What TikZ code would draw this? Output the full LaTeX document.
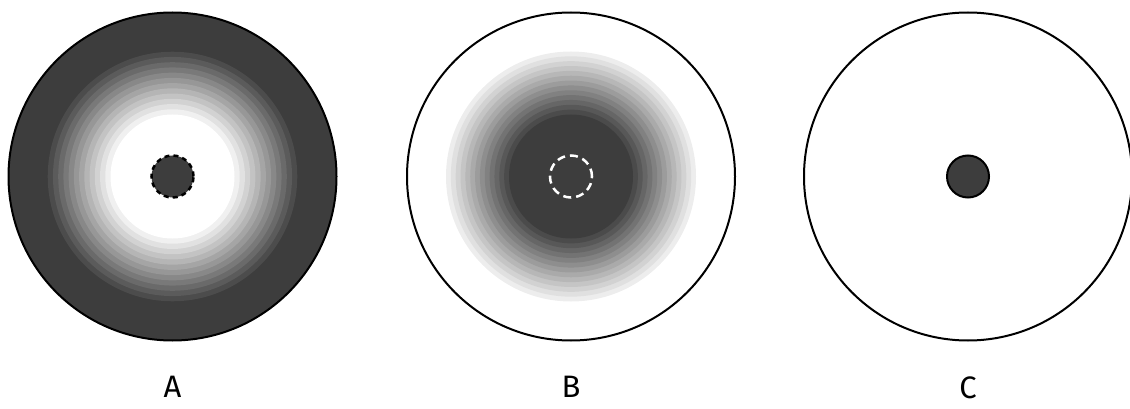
\documentclass[tikz,border=0pt]{standalone}
\usepackage{fontspec}
\setmainfont{Fira Sans}
\usetikzlibrary{positioning}
\definecolor{discgray}{gray}{0.24}

\begin{document}
\begin{tikzpicture}[x=1pt, y=-1pt, line width=2pt]
    % Styles
    \tikzstyle{disc} = [circle, draw, inner sep=0pt, minimum size=328pt]
    \tikzstyle{spot} = [circle, fill=discgray, inner sep=0pt, minimum size=42pt]
    \tikzstyle{tag} = [inner sep=0pt, font=\fontsize{31}{33}\selectfont]

    \useasboundingbox (0,0) rectangle (1130,409);

    % Rings of A: dark outside, white inside
    \fill[discgray] (172.5,176.5) circle (164pt);
    \foreach \i in {0,...,13} {
      \pgfmathsetmacro{\r}{130-\i*68/13}
      \pgfmathsetmacro{\k}{76*(1-\i/13)}
      \fill[black!\k] (172.5,176.5) circle (\r pt);
    }

    % Rings of B: light outside, dark inside
    \foreach \i in {0,...,13} {
      \pgfmathsetmacro{\r}{125-\i*63/13}
      \pgfmathsetmacro{\k}{7+\i*69/13}
      \fill[black!\k] (571,176.5) circle (\r pt);
    }

    % Nodes
    \node [disc] (discA) at (172.5,176.5) {};
    \node [disc] (discB) at (571,176.5) {};
    \node [disc] (discC) at (968,176.5) {};

    \node [spot, draw=black, line width=2.5pt, dash pattern=on 5pt off 4pt] (spotA) at (discA.center) {};
    \node [spot, draw=white, line width=2.5pt, dash pattern=on 8pt off 5pt] (spotB) at (discB.center) {};
    \node [spot, draw=black] (spotC) at (discC.center) {};

    % Labels
    \node [tag, below=34pt of discA] (labA) {A};
    \node [tag, below=34pt of discB] (labB) {B};
    \node [tag, below=34pt of discC] (labC) {C};

\end{tikzpicture}
\end{document}
